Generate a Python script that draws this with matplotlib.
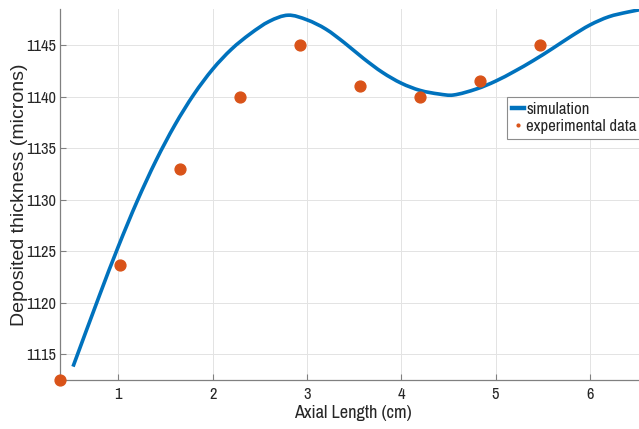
import matplotlib
matplotlib.use("Agg")
import matplotlib.pyplot as plt
from matplotlib import font_manager
from matplotlib.lines import Line2D
from matplotlib.path import Path
from matplotlib.patches import PathPatch

# ---- data ----
sim_x = [0.52, 0.8, 1.0, 1.2, 1.4, 1.6, 1.8, 2.0, 2.2, 2.4, 2.6, 2.8,
         3.0, 3.2, 3.4, 3.6, 3.8, 4.0, 4.2, 4.4, 4.55, 4.8, 5.0, 5.2, 5.4,
         5.6, 5.8, 6.0, 6.2, 6.4, 6.6]
sim_y = [1113.8, 1120.7, 1125.45, 1129.85, 1133.8, 1137.25, 1140.2, 1142.65,
         1144.6, 1146.1, 1147.3, 1147.9,
         1147.45, 1146.55, 1145.2, 1143.7, 1142.35, 1141.3, 1140.6, 1140.25,
         1140.15, 1140.75, 1141.5, 1142.45, 1143.5,
         1144.65, 1145.85, 1146.95, 1147.75, 1148.2, 1148.55]
exp_x = [0.382, 1.018, 1.654, 2.29, 2.926, 3.562, 4.198, 4.834, 5.47]
exp_y = [1112.5, 1123.7, 1133.0, 1140.0, 1145.0, 1141.05, 1140.0, 1141.55, 1145.0]
x_ticks = [1, 2, 3, 4, 5, 6]
y_ticks = [1115, 1120, 1125, 1130, 1135, 1140, 1145]
legend_labels = ['simulation', 'experimental data']

avail = {f.name for f in font_manager.fontManager.ttflist}
narrow = 'Liberation Sans'
for cand in ['Liberation Sans Narrow', 'Arial Narrow', 'Archivo Narrow',
             'Roboto Condensed', 'PT Sans Narrow', 'IBM Plex Sans Condensed',
             'Fira Sans Condensed']:
    if cand in avail:
        narrow = cand
        break
reg = 'Liberation Sans'

BLUE = '#0072BD'
ORANGE = '#D95319'
TXT = '#262626'

fig = plt.figure(figsize=(6.39, 4.29), dpi=100)
renderer = fig.canvas.get_renderer()


def fit_size(text, family, target_px, base=12.0):
    t = fig.text(0, 0, text, fontsize=base, family=family)
    w = t.get_window_extent(renderer=renderer).width
    t.remove()
    return base * target_px / w


tick_fs = fit_size('1145', narrow, 30)
xlab_fs = fit_size('Axial Length (cm)', narrow, 118)
leg_fs = fit_size('experimental data', narrow, 110)

W, H = 639, 429
left, bottom, top = 60, 380, 9
xmin, xmax = 0.382, 6.6
px_per_unit = 94.33
right = left + (xmax - xmin) * px_per_unit
ax = fig.add_axes([left / W, (H - bottom) / H, (right - left) / W, (bottom - top) / H])

# smooth simulation curve: cubic Hermite segments through the read points
n = len(sim_x)
tang = []
for i in range(n):
    if i == 0:
        m = (sim_y[1] - sim_y[0]) / (sim_x[1] - sim_x[0])
    elif i == n - 1:
        m = (sim_y[-1] - sim_y[-2]) / (sim_x[-1] - sim_x[-2])
    else:
        m = (sim_y[i + 1] - sim_y[i - 1]) / (sim_x[i + 1] - sim_x[i - 1])
    tang.append(m)
verts = [(sim_x[0], sim_y[0])]
codes = [Path.MOVETO]
for i in range(n - 1):
    dx = (sim_x[i + 1] - sim_x[i]) / 3
    verts += [(sim_x[i] + dx, sim_y[i] + tang[i] * dx),
              (sim_x[i + 1] - dx, sim_y[i + 1] - tang[i + 1] * dx),
              (sim_x[i + 1], sim_y[i + 1])]
    codes += [Path.CURVE4] * 3
ax.add_patch(PathPatch(Path(verts, codes), fill=False, edgecolor=BLUE, lw=2.6,
                       capstyle='butt', joinstyle='round', zorder=3))
ax.plot(exp_x, exp_y, 'o', color=ORANGE, ms=7.8, mec=ORANGE, clip_on=False, zorder=4)

ax.set_xlim(xmin, xmax)
ax.set_ylim(1112.5, 1148.5)
ax.set_xticks(x_ticks)
ax.set_yticks(y_ticks)
ax.grid(True, color='#e3e3e3', lw=0.7)
ax.set_axisbelow(True)

for s in ['top', 'right']:
    ax.spines[s].set_visible(False)
for s in ['left', 'bottom']:
    ax.spines[s].set_color('#808080')
    ax.spines[s].set_linewidth(0.9)

ax.tick_params(direction='in', length=4.3, width=0.8, color='#808080',
               labelcolor=TXT, labelsize=tick_fs)
ax.tick_params(axis='x', pad=5)
ax.tick_params(axis='y', pad=3)
for lab in ax.get_xticklabels() + ax.get_yticklabels():
    lab.set_fontfamily(narrow)

ax.set_xlabel('Axial Length (cm)', fontsize=xlab_fs, fontfamily=narrow, color=TXT, labelpad=2)
ax.set_ylabel('Deposited thickness (microns)', fontsize=14, fontfamily=reg, color=TXT)
ax.yaxis.set_label_coords((28 - left) / (right - left), 0.5)

handles = [Line2D([], [], color=BLUE, lw=3.2),
           Line2D([], [], ls='none', marker='o', ms=2, color=ORANGE)]
leg = fig.legend(handles, legend_labels,
                 loc='upper left', bbox_to_anchor=(506.7 / W, 1 - 97.3 / H),
                 borderaxespad=0, fancybox=False, framealpha=1,
                 edgecolor='#8c8c8c', handlelength=0.75, handletextpad=0.12,
                 borderpad=0.3, labelspacing=0.1,
                 prop={'family': narrow, 'size': leg_fs})
leg.get_frame().set_linewidth(0.8)
for t in leg.get_texts():
    t.set_color(TXT)

fig.savefig('out.png', dpi=100)
